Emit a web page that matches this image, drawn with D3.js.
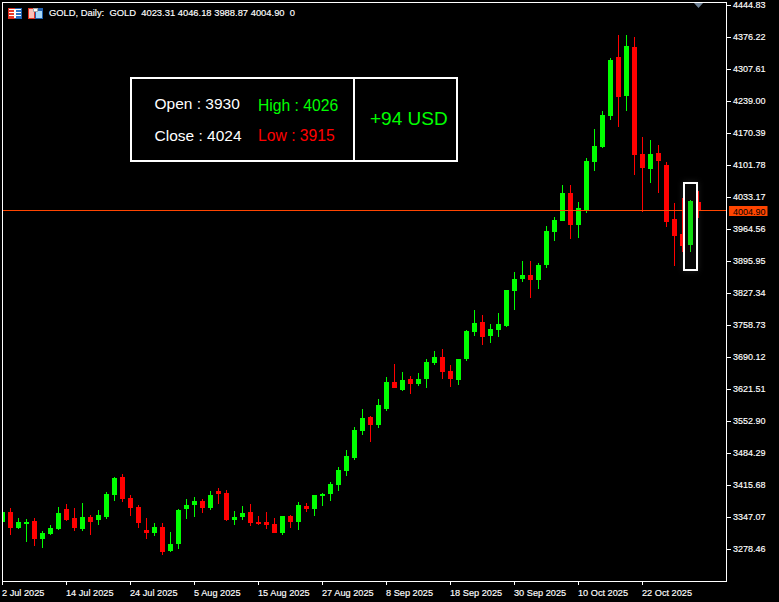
<!DOCTYPE html>
<html><head><meta charset="utf-8">
<script src="https://cdn.jsdelivr.net/npm/d3@7/dist/d3.min.js"></script>
<style>
html,body{margin:0;padding:0;background:#000;overflow:hidden}
svg{display:block}
text{font-family:"Liberation Sans",Arial,sans-serif}
</style></head><body>
<svg id="c" width="779" height="602"></svg>
<script>
const opens=[3336.4,3357.8,3323.5,3332.1,3338.5,3299.9,3310.6,3321.4,3364.2,3344.9,3321.4,3347.1,3340.7,3347.1,3394.3,3432.8,3387.8,3368.5,3319.2,3312.8,3325.6,3274.2,3289.2,3364.2,3372.8,3381.4,3366.4,3402.8,3398.5,3340.7,3347.1,3357.8,3336.4,3336.4,3332.1,3312.8,3349.2,3336.4,3370.7,3364.2,3392.1,3396.4,3415.7,3445.7,3473.6,3531.5,3561.5,3544.3,3578.6,3636.5,3619.3,3642.9,3632.2,3642.9,3677.3,3690.1,3660.1,3640.8,3685.8,3743.7,3765.2,3735.2,3748.0,3756.6,3831.6,3857.4,3866.0,3855.2,3887.4,3958.1,3981.7,4041.7,3973.1,4003.1,4108.2,4140.4,4206.9,4333.3,4249.8,4354.8,4125.4,4093.2,4127.5,4101.8,3986.0,3953.8,3930,4023.31];
const highs=[3357.8,3366.4,3344.9,3342.8,3344.9,3317.1,3329.9,3368.5,3374.9,3366.4,3377.1,3351.4,3362.1,3400.7,3432.8,3439.3,3394.3,3372.8,3344.9,3334.2,3334.2,3314.9,3364.2,3385.7,3390.0,3385.7,3402.8,3409.3,3405.0,3359.9,3370.7,3374.9,3349.2,3357.8,3344.9,3349.2,3351.4,3379.3,3377.1,3394.3,3398.5,3422.1,3454.3,3490.7,3540.0,3578.6,3563.6,3600.1,3647.2,3675.1,3657.9,3649.4,3655.8,3685.8,3703.0,3707.3,3673.0,3685.8,3748.0,3790.9,3780.2,3760.9,3784.5,3833.8,3872.4,3896.0,3896.0,3891.7,3971.0,3990.3,4058.9,4058.9,4022.4,4116.8,4179.0,4217.6,4331.2,4380.5,4380.5,4376.2,4161.8,4155.4,4144.6,4108.2,4020.3,4031.0,4026,4046.18];
const lows=[3336.4,3308.5,3321.4,3293.5,3284.9,3280.6,3308.5,3319.2,3338.5,3317.1,3317.1,3308.5,3329.9,3342.8,3381.4,3379.3,3349.2,3323.5,3299.9,3306.4,3265.6,3272.1,3278.5,3342.8,3347.1,3355.7,3362.1,3374.9,3338.5,3329.9,3340.7,3327.8,3329.9,3321.4,3312.8,3308.5,3323.5,3319.2,3357.8,3349.2,3370.7,3381.4,3402.8,3435.0,3469.3,3522.9,3507.9,3537.9,3574.4,3623.7,3617.2,3610.8,3627.9,3623.7,3673.0,3642.9,3625.8,3630.1,3681.5,3735.2,3715.9,3720.2,3733.0,3754.4,3790.9,3850.9,3816.6,3835.9,3880.9,3938.8,3981.7,3943.1,3945.3,3998.9,4088.9,4138.2,4198.3,4183.3,4217.6,4080.3,4001.0,4063.2,4041.7,3968.9,3885.2,3915.2,3915,3988.87];
const closes=[3357.8,3323.5,3336.4,3336.4,3299.9,3312.8,3323.5,3355.7,3340.7,3323.5,3347.1,3336.4,3351.4,3396.4,3430.7,3385.7,3366.4,3334.2,3312.8,3325.6,3272.1,3289.2,3362.1,3372.8,3381.4,3366.4,3394.3,3396.4,3340.7,3347.1,3355.7,3334.2,3332.1,3329.9,3312.8,3349.2,3336.4,3372.8,3364.2,3394.3,3396.4,3417.8,3447.9,3477.9,3533.6,3559.4,3544.3,3587.2,3636.5,3623.7,3640.8,3632.2,3642.9,3679.4,3690.1,3657.9,3642.9,3685.8,3745.9,3763.0,3733.0,3750.2,3760.9,3833.8,3857.4,3866.0,3855.2,3887.4,3960.3,3983.9,4041.7,3973.1,4009.6,4110.4,4142.5,4209.0,4326.9,4247.6,4356.9,4123.2,4095.3,4125.4,4110.4,3979.6,3949.5,3928.1,4024,4004.90];
const priceTicks=["4444.83","4376.22","4307.61","4239.00","4170.39","4101.78","4033.17","3964.56","3895.95","3827.34","3758.73","3690.12","3621.51","3552.90","3484.29","3415.68","3347.07","3278.46"];
const dateLabels=["2 Jul 2025","14 Jul 2025","24 Jul 2025","5 Aug 2025","15 Aug 2025","27 Aug 2025","8 Sep 2025","18 Sep 2025","30 Sep 2025","10 Oct 2025","22 Oct 2025"];
const dateIndex=[0,8,16,24,32,40,48,56,64,72,80];
const headerText="GOLD, Daily:  GOLD  4023.31 4046.18 3988.87 4004.90  0";
const lastPrice=4004.90;
const highlightIndex=86;
const panelLeft=["Open : 3930","Close : 4024"];
const panelHigh="High : 4026", panelLow="Low : 3915", panelPnl="+94 USD";

const GREEN="#00ff00",RED="#ff0000",ORANGE="#ff4500";
const L=2,T=2,R=726,B=581;
const svg=d3.select("#c");
svg.append("rect").attr("width",779).attr("height",602).attr("fill","#000");
const x=d3.scaleLinear().domain([0,87]).range([2.5,698.5]);
const y=d3.scaleLinear().domain([3278.46,4444.83]).range([549,5]);

const defs=svg.append("defs");
defs.append("clipPath").attr("id","plot").append("rect").attr("x",L+1).attr("y",T+1).attr("width",R-L-1).attr("height",B-T-1);
const f=defs.append("filter").attr("id","glow").attr("x","-60%").attr("y","-30%").attr("width","220%").attr("height","160%");
f.append("feDropShadow").attr("dx",0).attr("dy",0).attr("stdDeviation",3).attr("flood-color","#fff").attr("flood-opacity",0.12);

const data=opens.map((o,i)=>({i,o,h:highs[i],l:lows[i],c:closes[i]}));
const plot=svg.append("g").attr("clip-path","url(#plot)").attr("shape-rendering","crispEdges");

function candle(sel,fillFn){
  sel.append("rect").attr("x",d=>x(d.i)-0.5).attr("width",1)
    .attr("y",d=>Math.round(y(d.h))).attr("height",d=>Math.max(1,Math.round(y(d.l))-Math.round(y(d.h)))).attr("fill",fillFn);
  sel.append("rect").attr("x",d=>x(d.i)-2.5).attr("width",5)
    .attr("y",d=>Math.round(y(Math.max(d.o,d.c)))).attr("height",d=>Math.max(1,Math.round(y(Math.min(d.o,d.c)))-Math.round(y(Math.max(d.o,d.c))))).attr("fill",fillFn);
}
candle(plot.selectAll("g.k").data(data).join("g").attr("class","k"),d=>d.c>=d.o?GREEN:RED);

// last price line
plot.append("rect").attr("x",L).attr("width",R-L).attr("y",Math.floor(y(lastPrice))).attr("height",1).attr("fill",ORANGE);

// highlight box around the marked candle
const hl=data[highlightIndex];
const boxTop=Math.round(y(hl.h))-17, boxH=87;
svg.append("rect").attr("x",x(hl.i)-6.5).attr("width",13).attr("y",boxTop).attr("height",boxH)
  .attr("fill","#000").attr("stroke","#fff").attr("stroke-width",2).attr("filter","url(#glow)");
svg.append("rect").attr("x",x(hl.i)-6.5).attr("width",13).attr("y",boxTop).attr("height",boxH)
  .attr("fill","#060606").attr("stroke","#fff").attr("stroke-width",2).attr("shape-rendering","crispEdges");
candle(svg.append("g").attr("shape-rendering","crispEdges").selectAll("g").data([hl]).join("g"),()=>"#0fdc0f");

// frame and axes
const yAxis=d3.axisRight(y).tickValues(priceTicks.map(Number)).tickSize(5).tickPadding(2).tickFormat((d,i)=>priceTicks[i]);
const gy=svg.append("g").attr("transform",`translate(${R},0)`).call(yAxis);
const xAxis=d3.axisBottom(x).tickValues(dateIndex).tickSize(4).tickPadding(4).offset(0).tickFormat((d,i)=>dateLabels[i]);
const gx=svg.append("g").attr("transform",`translate(0,${B})`).call(xAxis);
gx.selectAll("text").attr("text-anchor","start").attr("x",-0.5);
[gy,gx].forEach((g,n)=>{g.select(".domain").remove();g.selectAll("line").attr("stroke","#fff").attr("shape-rendering","crispEdges");
  g.selectAll("text").attr("fill","#fff").attr("stroke","#fff").attr("stroke-width",0.15).attr("font-family",'"Liberation Sans"').attr("font-size",n?9.2:9);});
svg.append("rect").attr("x",L+.5).attr("y",T+.5).attr("width",R-L).attr("height",B-T).attr("fill","none").attr("stroke","#fff").attr("shape-rendering","crispEdges");

// top-right shift marker
svg.append("path").attr("d","M694 3L703 3L698.5 8Z").attr("fill","#6f8296");

// price tag
svg.append("rect").attr("x",729).attr("y",206).attr("width",38.5).attr("height",10).attr("fill",ORANGE);
svg.append("text").attr("x",733).attr("y",214.5).attr("fill","#000").attr("font-size",9).text(lastPrice.toFixed(2));

// header
const icon=svg.append("g").attr("shape-rendering","crispEdges");
const ir=(a,b,w,h,c)=>icon.append("rect").attr("x",a).attr("y",b).attr("width",w).attr("height",h).attr("fill",c);
ir(8,8,7,11,"#e03020");ir(15,8,7,11,"#1f5fae");ir(9,9,12,9,"#fff");
[10,13,16].forEach(b=>{ir(9,b,5,2,"#e83a2a");ir(16,b,5,2,"#2a72c8");});
ir(28,8,7,11,"#e03020");ir(35,8,8,11,"#1f5fae");ir(29,9,5,9,"#f9c0b8");ir(36,11,6,7,"#a8d8f8");ir(33,8,5,4,"#aaa");ir(34,9,3,2,"#fff");
svg.append("text").attr("x",49).attr("y",16).attr("fill","#fff").attr("stroke","#fff").attr("stroke-width",0.15).attr("font-size",9.4).style("white-space","pre").text(headerText);

// info panel
const panel=svg.append("g");
panel.append("rect").attr("x",131).attr("y",78).attr("width",326).attr("height",83).attr("fill","#000").attr("stroke","#fff").attr("stroke-width",2);
panel.append("line").attr("x1",354).attr("x2",354).attr("y1",78).attr("y2",161).attr("stroke","#fff").attr("stroke-width",2);
const ptxt=(tx,ty,s,fs,c)=>panel.append("text").attr("x",tx).attr("y",ty).attr("font-size",fs).attr("fill",c).text(s);
ptxt(154.5,109,panelLeft[0],15.5,"#fff");
ptxt(154.5,141,panelLeft[1],15.5,"#fff");
ptxt(258,111,panelHigh,15.7,GREEN);
ptxt(258,141,panelLow,15.7,RED);
ptxt(370,125,panelPnl,19,GREEN);
</script>
</body></html>
